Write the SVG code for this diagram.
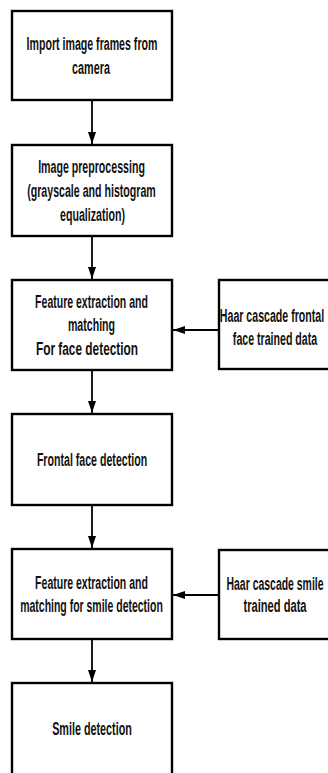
<svg xmlns="http://www.w3.org/2000/svg" width="328" height="773" viewBox="0 0 328 773">
<defs>
<style>
.box{fill:#fff;stroke:#000;stroke-width:2.4}
.t{font-family:"Liberation Sans",Arial,sans-serif;font-weight:bold;font-size:19px;fill:#111;text-anchor:middle}
.c{stroke:#000;stroke-width:1.8;fill:none}
</style>
<marker id="ah" viewBox="0 0 12 8" refX="12" refY="4" markerWidth="12" markerHeight="8" markerUnits="userSpaceOnUse" orient="auto">
<path d="M0,0 L12,4 L0,8 Z" fill="#000"/>
</marker>
</defs>
<rect width="328" height="773" fill="#fff"/>
<g id="n1">
<rect class="box" x="12" y="11" width="160" height="89"/>
<text class="t" transform="matrix(0.559,0,0,1,92,50)">Import image frames from</text>
<text class="t" transform="matrix(0.568,0,0,1,91,74)">camera</text>
</g>
<g id="n2">
<rect class="box" x="12" y="145" width="160" height="91"/>
<text class="t" transform="matrix(0.559,0,0,1,91.5,173)">Image preprocessing</text>
<text class="t" transform="matrix(0.559,0,0,1,91.5,197)">(grayscale and histogram</text>
<text class="t" transform="matrix(0.559,0,0,1,92.5,221)">equalization)</text>
</g>
<g id="n3">
<rect class="box" x="12" y="280" width="160" height="90"/>
<text class="t" transform="matrix(0.554,0,0,1,91.5,308)">Feature extraction and</text>
<text class="t" transform="matrix(0.559,0,0,1,91.5,331)">matching</text>
<text class="t" transform="matrix(0.625,0,0,1,87,355)">For face detection</text>
</g>
<g id="h1">
<rect class="box" x="219" y="280" width="116" height="89"/>
<text class="t" transform="matrix(0.559,0,0,1,272,322)">Haar cascade frontal</text>
<text class="t" transform="matrix(0.559,0,0,1,275,345)">face trained data</text>
</g>
<g id="n4">
<rect class="box" x="12" y="414" width="160" height="91"/>
<text class="t" transform="matrix(0.559,0,0,1,92,466)">Frontal face detection</text>
</g>
<g id="n5">
<rect class="box" x="12" y="549" width="160" height="90"/>
<text class="t" transform="matrix(0.554,0,0,1,91.5,589)">Feature extraction and</text>
<text class="t" transform="matrix(0.552,0,0,1,91.5,612)">matching for smile detection</text>
</g>
<g id="h2">
<rect class="box" x="219" y="550" width="116" height="89"/>
<text class="t" transform="matrix(0.55,0,0,1,275,590)">Haar cascade smile</text>
<text class="t" transform="matrix(0.587,0,0,1,275,612)">trained data</text>
</g>
<g id="n6">
<rect class="box" x="12" y="683" width="160" height="100"/>
<text class="t" transform="matrix(0.568,0,0,1,92,735)">Smile detection</text>
</g>
<g id="connectors">
<line class="c" x1="92" y1="101" x2="92" y2="144" marker-end="url(#ah)"/>
<line class="c" x1="92" y1="237" x2="92" y2="279" marker-end="url(#ah)"/>
<line class="c" x1="92" y1="371" x2="92" y2="413" marker-end="url(#ah)"/>
<line class="c" x1="92" y1="506" x2="92" y2="548" marker-end="url(#ah)"/>
<line class="c" x1="92" y1="640" x2="92" y2="682" marker-end="url(#ah)"/>
<line class="c" x1="218" y1="330" x2="173" y2="330" marker-end="url(#ah)"/>
<line class="c" x1="218" y1="595" x2="173" y2="595" marker-end="url(#ah)"/>
</g>
</svg>
